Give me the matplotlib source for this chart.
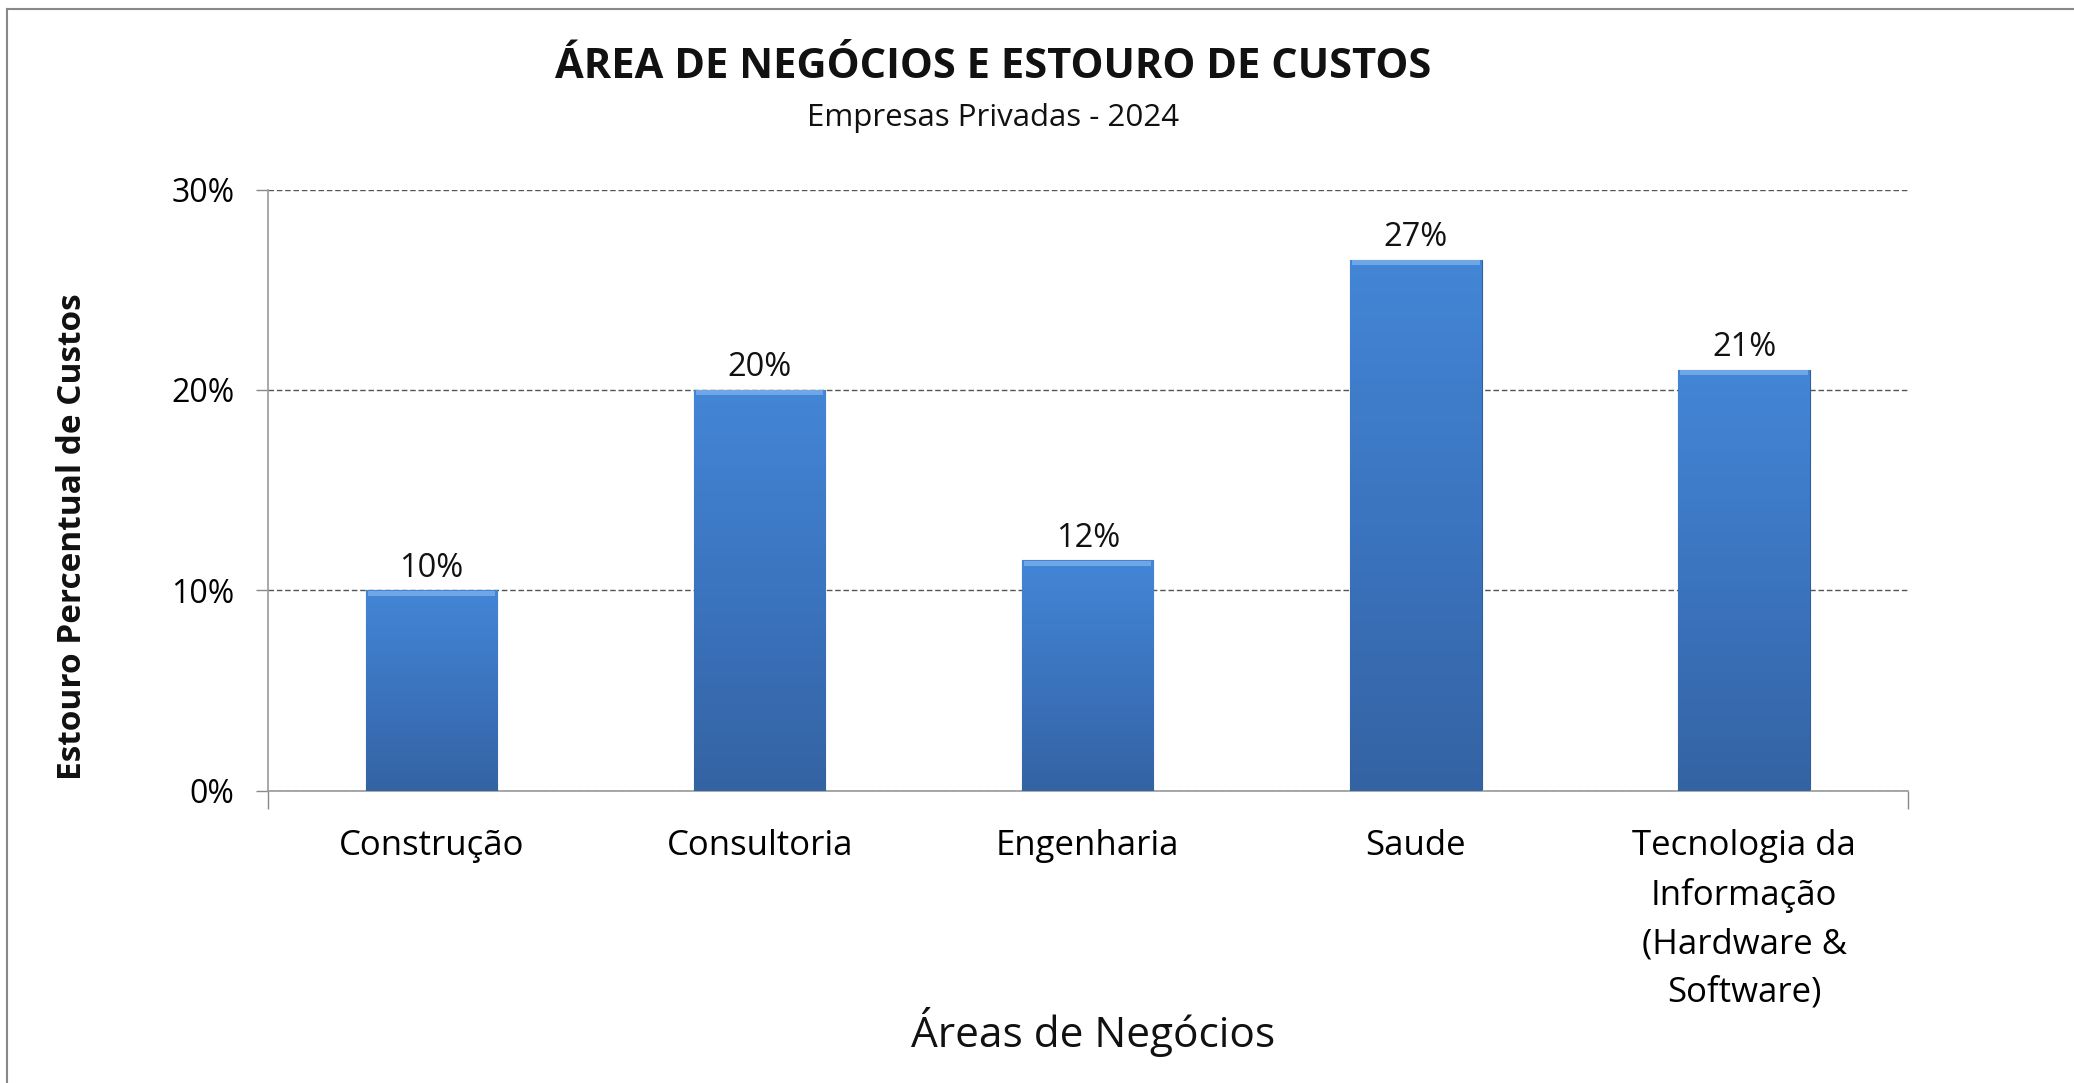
import numpy as np
import matplotlib
matplotlib.use('Agg')
import matplotlib.pyplot as plt
from matplotlib.colors import LinearSegmentedColormap
from matplotlib.ticker import PercentFormatter

categories = ['Construção', 'Consultoria', 'Engenharia', 'Saude',
              'Tecnologia da\nInformação\n(Hardware &\nSoftware)']
values = [0.10, 0.20, 0.115, 0.265, 0.21]
labels = ['10%', '20%', '12%', '27%', '21%']
yticks = [0, 0.10, 0.20, 0.30]

plt.rcParams['font.family'] = ['Open Sans', 'DejaVu Sans']

fig = plt.figure(figsize=(20.74, 10.83), dpi=100)
ax = fig.add_axes([0.129, 0.270, 0.791, 0.555])

x = np.arange(len(categories))
bars = ax.bar(x, values, width=0.40, color='#3d77c4', zorder=2,
              edgecolor='#2f5e9c', linewidth=0.8)

# vertical gradient inside every bar
cmap = LinearSegmentedColormap.from_list('bar', ['#3463a3', '#3b74bf', '#4386d6'])
grad = np.linspace(0, 1, 256).reshape(-1, 1)
for b in bars:
    x0, w, h = b.get_x(), b.get_width(), b.get_height()
    im = ax.imshow(grad, cmap=cmap, origin='lower', aspect='auto',
                   extent=(x0, x0 + w, 0, h), zorder=3)
    im.set_clip_path(b)
    # light bevel on top
    ax.bar(x0 + w / 2, 0.0025, width=w * 0.97, bottom=h - 0.0028,
           color='#6fa6e6', zorder=4, linewidth=0)

for xi, v, lab in zip(x, values, labels):
    ax.annotate(lab, (xi, v), xytext=(0, 4), textcoords='offset points',
                ha='center', va='bottom', fontsize=23.5, color='#111111')

ax.set_xlim(-0.5, 4.5)
ax.set_ylim(0, 0.30)
ax.set_yticks(yticks)
ax.yaxis.set_major_formatter(PercentFormatter(1.0, decimals=0))
ax.tick_params(axis='y', labelsize=23, length=9, width=1, color='#888888', pad=15)
ax.set_xticks([-0.5, 4.5])
ax.set_xticklabels([])
ax.set_xticks(x, minor=True)
ax.set_xticklabels(categories, minor=True, fontsize=25, linespacing=1.55)
ax.tick_params(axis='x', which='major', length=13, width=1, color='#888888')
ax.tick_params(axis='x', which='minor', length=0, pad=28)
ax.grid(axis='y', color='#555555', linestyle=(0, (4, 2)), linewidth=1.0, zorder=0)
for s in ['top', 'right']:
    ax.spines[s].set_visible(False)
for s in ['left', 'bottom']:
    ax.spines[s].set_color('#999999')
    ax.spines[s].set_linewidth(1.2)

fig.text(0.479, 0.938, 'ÁREA DE NEGÓCIOS E ESTOURO DE CUSTOS', ha='center',
         va='center', fontsize=30, fontweight='bold', color='#111111')
fig.text(0.479, 0.891, 'Empresas Privadas - 2024', ha='center', va='center',
         fontsize=22.5, color='#111111')
fig.text(0.527, 0.047, 'Áreas de Negócios', ha='center', va='center',
         fontsize=30.5, color='#111111')
fig.text(0.035, 0.504, 'Estouro Percentual de Custos', ha='center', va='center',
         rotation=90, fontsize=24, fontweight='bold', color='#111111')

# outer chart frame (top and left edges)
fig.add_artist(plt.Line2D([0.0034, 1.0], [0.9917, 0.9917], color='#888888',
                          linewidth=1.5, transform=fig.transFigure))
fig.add_artist(plt.Line2D([0.0034, 0.0034], [0.0, 0.9917], color='#888888',
                          linewidth=1.5, transform=fig.transFigure))

fig.savefig('out.png', dpi=100)
